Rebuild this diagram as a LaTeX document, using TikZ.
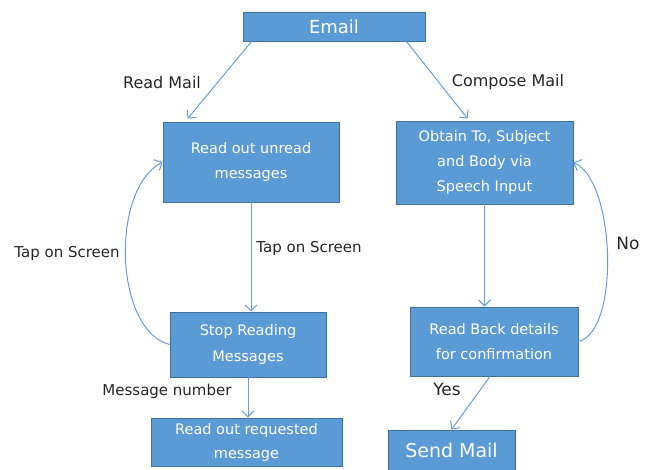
\documentclass[tikz,border=0pt]{standalone}
\usepackage{fontspec}
\setmainfont{DejaVu Sans}
\usetikzlibrary{arrows.meta,calc}
\definecolor{boxfill}{HTML}{5B9BD5}
\definecolor{boxline}{HTML}{41719C}
\definecolor{arrowc}{HTML}{6A9FD6}
\definecolor{labelc}{HTML}{262626}
\tikzset{
  box/.style={draw=boxline, line width=0.8pt, fill=boxfill, text=white, align=center,
    inner sep=0pt, font=\fontsize{14.5}{25}\selectfont},
  conn/.style={draw=arrowc, line width=1pt, -{Straight Barb[length=6pt,width=12pt]}},
  lbl/.style={text=labelc, inner sep=0pt, font=\fontsize{15}{18}\selectfont},
}
\begin{document}
\begin{tikzpicture}[x=1pt,y=-1pt]
\useasboundingbox (0,0) rectangle (656,470);
\node[box, minimum width=182pt, minimum height=29pt, font=\fontsize{18}{22}\selectfont] (email) at (334,26.5) {Email};
\node[box, minimum width=176pt, minimum height=80pt] (readu) at (251,162) {Read out unread\\messages};
\node[box, minimum width=177pt, minimum height=83pt] (obtain) at (484.5,162.5) {Obtain To, Subject\\and Body via\\Speech Input};
\node[box, minimum width=156pt, minimum height=65pt] (stop) at (248,344.5) {Stop Reading\\Messages};
\node[box, minimum width=168pt, minimum height=69pt] (readback) at (494,341.5) {Read Back details\\for confirmation};
\node[box, minimum width=191pt, minimum height=48pt, font=\fontsize{14.5}{24}\selectfont] (readreq) at (246.5,442) {Read out requested\\message};
\node[box, minimum width=127pt, minimum height=40pt, font=\fontsize{19}{22}\selectfont] (send) at (451.5,450) {Send Mail};

\draw[conn] ($(email.south west)+(9,0)$) -- ($(readu.north west)+(25,-3)$);
\draw[conn] ($(email.south east)+(-19,0)$) -- ($(obtain.north west)+(72,-2)$);
\draw[conn] (readu.south) -- (readu.south |- stop.north);
\draw[conn] (obtain.south) -- (obtain.south |- readback.north);
\draw[conn] (stop.south) -- (stop.south |- readreq.north);
\draw[conn] ($(readback.south)+(-4,0)$) -- (send.north);
\draw[conn] (stop.west) .. controls +(-55,-14) and +(-53,28) .. (readu.west);
\draw[conn] (readback.east) .. controls +(42,-10) and +(42,18) .. (obtain.east);

\node[lbl, font=\fontsize{16}{18}\selectfont] (lrm) at (162,83) {Read Mail};
\node[lbl, font=\fontsize{16}{18}\selectfont] (lcm) at (508,82) {Compose Mail};
\node[lbl] (ltl) at (67,253) {Tap on Screen};
\node[lbl] (ltr) at (309,248) {Tap on Screen};
\node[lbl, font=\fontsize{17}{20}\selectfont] (lno) at (628,243) {No};
\node[lbl] (lmn) at (167,391) {Message number};
\node[lbl, font=\fontsize{17}{20}\selectfont] (lyes) at (447,389) {Yes};
\end{tikzpicture}
\end{document}
